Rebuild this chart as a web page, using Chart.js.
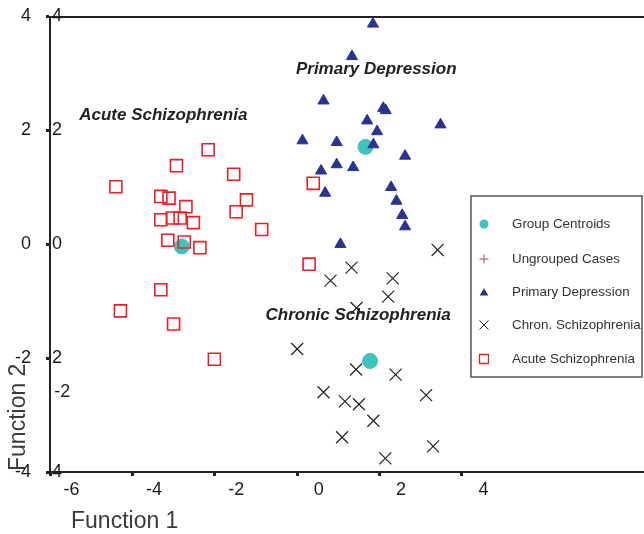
<!DOCTYPE html>
<html>
<head>
<meta charset="utf-8">
<script src="https://cdn.jsdelivr.net/npm/chart.js@4.4.1/dist/chart.umd.min.js"></script>
<style>
  html, body { margin: 0; padding: 0; background: #ffffff; }
  #wrap { width: 644px; height: 534px; }
</style>
</head>
<body>
<div id="wrap"><canvas id="c" width="644" height="534"></canvas></div>
<script>
// ---------- data (Function 1, Function 2) ----------
const primaryDepression = [
  [1.84, 3.87], [1.33, 3.30], [0.64, 2.52], [2.09, 2.39], [2.15, 2.35],
  [1.70, 2.17], [3.48, 2.10], [1.94, 1.98], [0.13, 1.82], [0.96, 1.79],
  [1.85, 1.75], [2.62, 1.55], [0.96, 1.40], [1.36, 1.35], [0.58, 1.29],
  [2.28, 1.00], [2.41, 0.76], [0.68, 0.90], [2.55, 0.51], [2.62, 0.31],
  [1.05, 0.00]
];
const chronSchizophrenia = [
  [3.41, -0.10], [1.32, -0.41], [0.81, -0.64], [2.32, -0.60], [2.21, -0.92],
  [1.44, -1.12], [0.00, -1.84], [1.43, -2.20], [2.39, -2.29], [0.64, -2.60],
  [1.16, -2.76], [1.50, -2.81], [3.13, -2.65], [1.85, -3.10], [1.09, -3.39],
  [3.30, -3.55], [2.14, -3.76]
];
const acuteSchizophrenia = [
  [-2.16, 1.66], [-2.93, 1.38], [-1.54, 1.23], [-4.40, 1.01], [-3.31, 0.84],
  [-3.11, 0.81], [-2.70, 0.66], [-1.23, 0.78], [-1.48, 0.57], [-3.31, 0.43],
  [-3.03, 0.46], [-2.84, 0.46], [-2.52, 0.38], [-0.86, 0.26], [-3.14, 0.07],
  [-2.74, 0.04], [-2.36, -0.06], [-3.31, -0.80], [-4.29, -1.17], [-3.00, -1.40],
  [0.39, 1.07], [0.29, -0.35], [-2.01, -2.02]
];
const groupCentroids = [
  [1.66, 1.71], [1.77, -2.05], [-2.80, -0.04]
];
const ungroupedCases = [];

const xTickValues = [-6, -4, -2, 0, 2, 4];
const yTickValues = [-4, -2, 0, 2, 4];

const legendLabels = ['Group Centroids', 'Ungrouped Cases', 'Primary Depression', 'Chron. Schizophrenia', 'Acute Schizophrenia'];
const groupLabels = [
  { text: 'Primary Depression', x: 1.92, y: 3.07 },
  { text: 'Acute Schizophrenia', x: -3.25, y: 2.26 },
  { text: 'Chronic Schizophrenia', x: 1.48, y: -1.24 }
];
const strayLabel = { text: '-2', x: -5.70, y: -2.59 };

// ---------- styles ----------
const FONT = "'Liberation Sans', Arial, Helvetica, sans-serif";
const C_PD = '#2a3391';
const C_CH = '#222222';
const C_AC = '#e8202a';
const C_CE = '#3ec3bd';
const C_UN = '#b8407f';

const toPts = arr => arr.map(p => ({ x: p[0], y: p[1] }));

function drawSym(ctx, style, x, y, r, fill, stroke, lw) {
  ctx.save();
  ctx.lineWidth = lw;
  ctx.strokeStyle = stroke;
  ctx.fillStyle = fill;
  ctx.beginPath();
  if (style === 'circle') {
    ctx.arc(x, y, r, 0, Math.PI * 2);
    ctx.fill();
  } else if (style === 'triangle') {
    ctx.moveTo(x, y - r);
    ctx.lineTo(x + r * 0.866, y + r * 0.5);
    ctx.lineTo(x - r * 0.866, y + r * 0.5);
    ctx.closePath();
    ctx.fill();
  } else if (style === 'cross') {
    ctx.moveTo(x - r, y); ctx.lineTo(x + r, y);
    ctx.moveTo(x, y - r); ctx.lineTo(x, y + r);
    ctx.stroke();
  } else if (style === 'crossRot') {
    ctx.moveTo(x - r, y - r); ctx.lineTo(x + r, y + r);
    ctx.moveTo(x + r, y - r); ctx.lineTo(x - r, y + r);
    ctx.stroke();
  } else if (style === 'rect') {
    ctx.rect(x - r, y - r, 2 * r, 2 * r);
    ctx.stroke();
  }
  ctx.restore();
}

const annotationPlugin = {
  id: 'annotations',
  afterDatasetsDraw(chart) {
    const ctx = chart.ctx;
    const xs = chart.scales.x, ys = chart.scales.y;
    ctx.save();
    ctx.fillStyle = '#222222';
    ctx.font = "italic bold 17px " + FONT;
    ctx.textAlign = 'center';
    ctx.textBaseline = 'middle';
    groupLabels.forEach(g => {
      ctx.fillText(g.text, xs.getPixelForValue(g.x), ys.getPixelForValue(g.y));
    });
    ctx.font = "18px " + FONT;
    ctx.fillStyle = '#222222';
    ctx.fillText(strayLabel.text, xs.getPixelForValue(strayLabel.x), ys.getPixelForValue(strayLabel.y));
    ctx.fillStyle = '#3a3a3a';
    ctx.font = "23px " + FONT;
    ctx.textAlign = 'left';
    ctx.textBaseline = 'alphabetic';
    ctx.fillText('Function 1', 71, 528);
    ctx.translate(25, 471);
    ctx.rotate(-Math.PI / 2);
    ctx.fillText('Function 2', 0, 0);
    ctx.restore();
  },
  afterDraw(chart) {
    const ctx = chart.ctx;
    ctx.save();
    const bx = 471, by = 196, bw = 171, bh = 181;
    ctx.fillStyle = '#ffffff';
    ctx.fillRect(bx, by, bw, bh);
    ctx.strokeStyle = '#555555';
    ctx.lineWidth = 1.5;
    ctx.strokeRect(bx, by, bw, bh);
    const rowsY = [224, 259, 292, 325, 359];
    const symX = 484, txtX = 512;
    drawSym(ctx, 'circle', symX, rowsY[0], 4.5, C_CE, C_CE, 1);
    drawSym(ctx, 'cross', symX, rowsY[1], 4.5, C_UN, C_UN, 1);
    drawSym(ctx, 'triangle', symX, rowsY[2] + 1, 5, C_PD, C_PD, 1);
    drawSym(ctx, 'crossRot', symX, rowsY[3], 4.5, C_CH, C_CH, 1);
    drawSym(ctx, 'rect', symX, rowsY[4], 4.5, 'rgba(0,0,0,0)', C_AC, 1.3);
    ctx.fillStyle = '#333333';
    ctx.font = "13.4px " + FONT;
    ctx.textAlign = 'left';
    ctx.textBaseline = 'middle';
    legendLabels.forEach((t, i) => ctx.fillText(t, txtX, rowsY[i]));
    ctx.restore();
  }
};

const keepTicks = vals => scale => {
  scale.ticks = vals.map(v => ({ value: v }));
};
const fitTo = (w, h) => s => {
  if (w !== null) s.width = w;
  if (h !== null) s.height = h;
  s.paddingLeft = 0; s.paddingRight = 0; s.paddingTop = 0; s.paddingBottom = 0;
};

new Chart(document.getElementById('c'), {
  type: 'scatter',
  data: {
    datasets: [
      { label: 'Primary Depression', data: toPts(primaryDepression), pointStyle: 'triangle',
        radius: 6.4, backgroundColor: C_PD, borderColor: C_PD, borderWidth: 1 },
      { label: 'Chron. Schizophrenia', data: toPts(chronSchizophrenia), pointStyle: 'crossRot',
        radius: 8.5, backgroundColor: C_CH, borderColor: C_CH, borderWidth: 1.2 },
      { label: 'Acute Schizophrenia', data: toPts(acuteSchizophrenia), pointStyle: 'rect',
        radius: 8.5, backgroundColor: 'rgba(0,0,0,0)', borderColor: C_AC, borderWidth: 1.6 },
      { label: 'Ungrouped Cases', data: toPts(ungroupedCases), pointStyle: 'cross',
        radius: 6, borderColor: C_UN, borderWidth: 1 },
      { label: 'Group Centroids', data: toPts(groupCentroids), pointStyle: 'circle',
        radius: 7.5, backgroundColor: C_CE, borderColor: C_CE, borderWidth: 1 }
    ]
  },
  options: {
    responsive: false,
    animation: false,
    events: [],
    devicePixelRatio: 1,
    layout: { autoPadding: false, padding: { top: 16.5, right: 0, left: 0, bottom: 0 } },
    plugins: { legend: { display: false }, tooltip: { enabled: false }, title: { display: false } },
    scales: {
      x: {
        type: 'linear', position: 'bottom', min: -6, max: 8.42,
        afterBuildTicks: keepTicks(xTickValues),
        afterFit: fitTo(null, 62),
        ticks: { labelOffset: 21.5, padding: 3, color: '#1a1a1a', font: { family: FONT, size: 18 } },
        grid: { drawOnChartArea: false, drawTicks: true, tickLength: 4, tickWidth: 3, tickColor: '#222222' },
        border: { display: true, color: '#222222', width: 2 }
      },
      xTop: {
        type: 'linear', position: 'top', min: -6, max: 8.42,
        afterFit: fitTo(null, 0),
        ticks: { display: false },
        grid: { drawOnChartArea: false, drawTicks: false },
        border: { display: true, color: '#222222', width: 2 }
      },
      y: {
        type: 'linear', position: 'left', min: -4, max: 4, weight: 1,
        afterBuildTicks: keepTicks(yTickValues),
        afterFit: fitTo(50, null),
        ticks: { padding: 15, color: '#1a1a1a', font: { family: FONT, size: 18 } },
        grid: { drawOnChartArea: false, drawTicks: true, tickLength: 4, tickWidth: 3, tickColor: '#222222' },
        border: { display: true, color: '#222222', width: 2 }
      },
      yInner: {
        type: 'linear', position: 'left', min: -4, max: 4, weight: 0,
        afterBuildTicks: keepTicks(yTickValues),
        afterFit: fitTo(0, null),
        ticks: { mirror: true, padding: 2, color: '#1a1a1a', font: { family: FONT, size: 18 },
                 callback: v => String(Math.abs(v)) },
        grid: { display: false },
        border: { display: false }
      }
    }
  },
  plugins: [annotationPlugin]
});
</script>
</body>
</html>
